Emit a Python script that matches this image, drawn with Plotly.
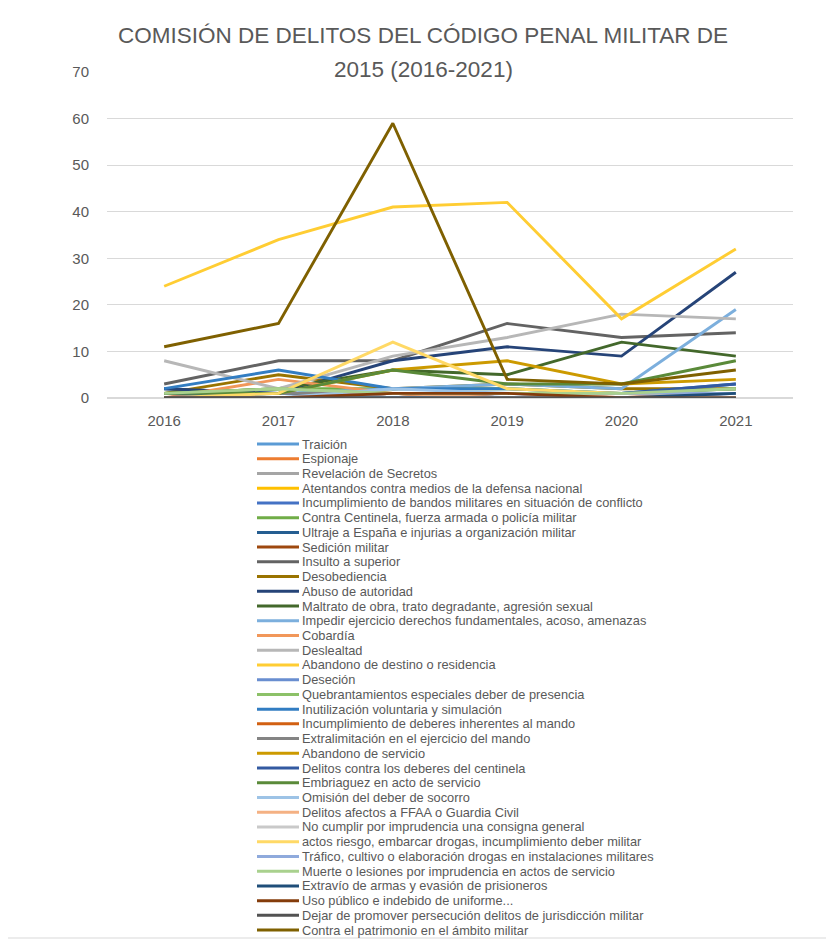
import plotly.graph_objects as go

years = ["2016", "2017", "2018", "2019", "2020", "2021"]

names = [
    "Traición",
    "Espionaje",
    "Revelación de Secretos",
    "Atentandos contra medios de la defensa nacional",
    "Incumplimiento de bandos militares en situación de conflicto",
    "Contra Centinela, fuerza armada o policía militar",
    "Ultraje a España e injurias a organización militar",
    "Sedición militar",
    "Insulto a superior",
    "Desobediencia",
    "Abuso de autoridad",
    "Maltrato de obra, trato degradante, agresión sexual",
    "Impedir ejercicio derechos fundamentales, acoso, amenazas",
    "Cobardía",
    "Deslealtad",
    "Abandono de destino o residencia",
    "Deseción",
    "Quebrantamientos especiales deber de presencia",
    "Inutilización voluntaria y simulación",
    "Incumplimiento de deberes inherentes al mando",
    "Extralimitación en el ejercicio del mando",
    "Abandono de servicio",
    "Delitos contra los deberes del centinela",
    "Embriaguez en acto de servicio",
    "Omisión del deber de socorro",
    "Delitos afectos a FFAA o Guardia Civil",
    "No cumplir por imprudencia una consigna general",
    "actos riesgo, embarcar drogas, incumplimiento deber militar",
    "Tráfico, cultivo o elaboración drogas en instalaciones militares",
    "Muerte o lesiones por imprudencia en actos de servicio",
    "Extravío de armas y evasión de prisioneros",
    "Uso público e indebido de uniforme...",
    "Dejar de promover persecución delitos de jurisdicción militar",
    "Contra el patrimonio en el ámbito militar",
]

values = [
    [0, 1, 0, 0, 0, 0],
    [0, 0, 0, 0, 0, 0],
    [1, 0, 1, 0, 1, 0],
    [0, 0, 0, 0, 0, 0],
    [0, 0, 0, 0, 0, 0],
    [1, 2, 2, 2, 1, 1],
    [2, 1, 1, 1, 1, 2],
    [0, 0, 1, 0, 0, 0],
    [3, 8, 8, 16, 13, 14],
    [1, 5, 2, 3, 2, 2],
    [2, 1, 8, 11, 9, 27],
    [1, 2, 6, 5, 12, 9],
    [1, 1, 2, 3, 2, 19],
    [0, 4, 1, 0, 1, 0],
    [8, 2, 9, 13, 18, 17],
    [24, 34, 41, 42, 17, 32],
    [0, 0, 0, 1, 0, 1],
    [1, 2, 1, 1, 1, 2],
    [2, 6, 2, 2, 1, 3],
    [0, 0, 1, 0, 0, 0],
    [1, 1, 1, 1, 1, 1],
    [1, 1, 6, 8, 3, 4],
    [1, 0, 1, 1, 1, 3],
    [1, 1, 6, 3, 3, 8],
    [0, 0, 2, 1, 0, 0],
    [0, 0, 1, 0, 1, 0],
    [0, 0, 0, 0, 0, 0],
    [0, 1, 12, 2, 1, 1],
    [0, 0, 1, 1, 1, 1],
    [1, 2, 1, 1, 1, 2],
    [0, 0, 0, 0, 0, 1],
    [0, 0, 1, 1, 0, 0],
    [0, 0, 0, 0, 0, 0],
    [11, 16, 59, 4, 3, 6],
]

colors = [
    "#5B9BD5", "#ED7D31", "#A5A5A5", "#FFC000", "#4472C4", "#70AD47",
    "#255E91", "#9E480E", "#636363", "#997300", "#264478", "#43682B",
    "#7CAFDD", "#F1975A", "#B7B7B7", "#FFCD33", "#698ED0", "#8CC168",
    "#327DC2", "#D26012", "#848484", "#CC9A00", "#335AA1", "#5A8A39",
    "#9DC3E6", "#F4B183", "#C9C9C9", "#FFD966", "#8FAADC", "#A9D18E",
    "#1F4E79", "#843C0B", "#525252", "#7F6000",
]

title_lines = ["COMISIÓN DE DELITOS DEL CÓDIGO PENAL MILITAR DE", "2015 (2016-2021)"]

O = 8  # page body margin offset
W, H = 834 - O, 941 - O
L, R, T, B = 107 - O, 834 - 793, 72 - O, 941 - 398
PW, PH = W - L - R, H - T - B

def px(x):
    return (x - O - L) / PW

def py(y):
    return (T + PH - (y - O)) / PH

FONT = "Liberation Sans, Arial, sans-serif"

fig = go.Figure()
for n, v, c in zip(names, values, colors):
    fig.add_trace(go.Scatter(x=years, y=v, name=n, mode="lines",
                             line=dict(color=c, width=2.9), showlegend=False))

# manual legend (Excel-style compact legend)
leg_y0, leg_dy = 444, 14.73
for i, (n, c) in enumerate(zip(names, colors)):
    yy = leg_y0 + i * leg_dy
    fig.add_shape(type="line", xref="paper", yref="paper",
                  x0=px(257), x1=px(299), y0=py(yy), y1=py(yy),
                  line=dict(color=c, width=3))
    fig.add_annotation(xref="paper", yref="paper", x=px(300), y=py(yy),
                       xanchor="left", yanchor="middle", text=n, showarrow=False,
                       font=dict(family=FONT, size=12.8, color="#595959"))

# chart border
fig.add_shape(type="rect", xref="paper", yref="paper",
              x0=px(4), x1=px(830), y0=py(938), y1=py(3),
              line=dict(color="#D9D9D9", width=1), layer="below")

# title (two lines, Excel spacing)
for t, yy in zip(title_lines, [36, 69]):
    fig.add_annotation(xref="paper", yref="paper", x=px(423), y=py(yy),
                       xanchor="center", yanchor="middle", showarrow=False,
                       text=t, font=dict(family=FONT, size=22.5, color="#595959"))

fig.update_layout(
    width=W, height=H,
    margin=dict(l=L, r=R, t=T, b=B),
    paper_bgcolor="white", plot_bgcolor="white",
    xaxis=dict(type="category", range=[-0.5, 5.5], showgrid=False, zeroline=False,
               showline=False, ticks="", ticklabelstandoff=12,
               tickfont=dict(family=FONT, size=15, color="#595959")),
    yaxis=dict(range=[0, 70], tickvals=[0, 10, 20, 30, 40, 50, 60, 70],
               showgrid=True, gridcolor="#D9D9D9", gridwidth=1, zeroline=True,
               zerolinecolor="#D9D9D9", showline=False, ticks="", ticklabelstandoff=17,
               tickfont=dict(family=FONT, size=15, color="#595959")),
)

fig.write_html("out.html")
